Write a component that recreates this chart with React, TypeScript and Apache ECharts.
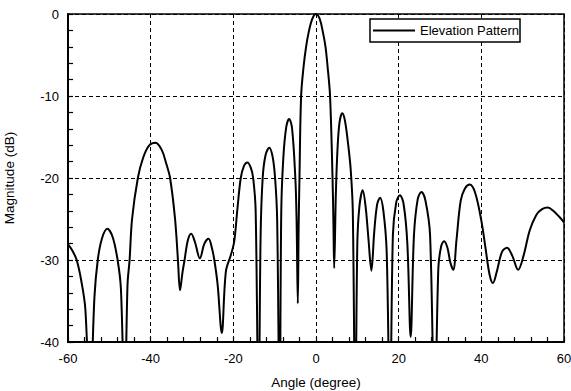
import { useEffect, useRef } from "react";
import * as echarts from "echarts";

// Elevation pattern: angle (degree) vs magnitude (dB), nulls go below the -40 dB floor
const angles = [
  -60, -59.0, -57.9, -56.8, -55.8, -54.7, -53.6, -52.8, -51.8, -50.5, -49.2, -48.0, -47.2, -46.3,
  -45.6, -45.1, -44.5, -43.1, -41.8, -40.3, -38.8, -37.3, -36.2, -35.3, -34.1, -33.4, -32.9,
  -32.3, -31.8, -31.0, -30.2, -29.3, -28.1, -27.0, -26.0, -25.2, -24.6, -23.8, -22.8, -21.8,
  -20.6, -19.8, -19.0, -18.2, -17.4, -16.6, -15.8, -15.2, -14.6, -13.9, -13.4, -12.9, -12.2,
  -11.3, -10.5, -9.9, -9.4, -8.8, -8.4, -7.9, -7.2, -6.5, -5.8, -5.0, -4.7, -4.4, -4.2, -4.0,
  -3.6, -3.0, -2.4, -1.8, -0.9, 0, 0.9, 1.7, 2.3, 2.8, 3.4, 4.0, 4.2, 4.4, 4.8, 5.2, 5.7, 6.35,
  7.0, 7.8, 8.4, 8.9, 9.5, 10.0, 10.5, 11.3, 12.0, 12.7, 13.4, 14.1, 14.8, 15.5, 16.3, 17.1,
  17.9, 18.6, 19.4, 20.3, 21.2, 22.1, 22.9, 23.7, 24.6, 25.5, 26.5, 27.6, 28.7, 29.6, 30.3,
  31.0, 31.8, 32.5, 33.2, 34.0, 35.0, 36.0, 37.2, 38.5, 40.0, 41.0, 42.0, 42.8, 43.7, 45.0,
  46.2, 47.5, 48.9, 50.2, 51.7, 53.3, 54.7, 56.1, 57.4, 58.8, 60,
];

const magnitudes = [
  -28.1, -28.8, -30.0, -32.5, -36.0, -48.0, -34.5, -30.0, -27.4, -26.2, -27.2, -30.0, -33.5, -48.0,
  -33.0, -30.0, -25.0, -20.0, -17.5, -16.0, -15.7, -16.6, -18.3, -20.0, -25.0, -30.0, -33.7,
  -31.5, -30.0, -27.6, -26.8, -27.8, -29.8, -28.0, -27.4, -28.5, -30.0, -33.0, -38.9, -31.4,
  -29.4, -27.8, -23.7, -20.0, -18.5, -18.1, -18.7, -20.0, -24.0, -50.0, -27.0, -20.0, -17.2,
  -16.3, -17.4, -20.0, -25.0, -50.0, -24.0, -17.5, -13.8, -12.8, -13.9, -20.0, -25.0, -35.3,
  -26.0, -20.0, -10.0, -6.4, -4.0, -2.3, -0.6, 0, -0.6, -2.3, -4.0, -6.4, -10.0, -20.0, -25.0,
  -31.0, -22.0, -16.5, -13.2, -12.1, -13.0, -16.0, -19.0, -24.0, -50.0, -28.0, -23.5, -21.5,
  -23.5, -27.5, -31.3, -26.5, -23.2, -22.4, -24.0, -29.0, -50.0, -27.0, -23.0, -22.1, -23.2,
  -28.0, -39.4, -27.0, -22.6, -21.7, -22.8, -27.0, -50.0, -31.0, -28.3, -27.7, -28.5, -30.3,
  -31.2, -27.5, -22.8, -21.3, -20.8, -21.8, -25.2, -28.5, -31.8, -32.8, -31.5, -29.0, -28.5,
  -29.5, -31.2, -29.5, -26.4, -24.5, -23.8, -23.6, -24.0, -24.7, -25.4,
];

const seriesName = "Elevation Pattern";
const xTitle = "Angle (degree)";
const yTitle = "Magnitude (dB)";

const FONT = "Liberation Sans, Arial, Helvetica, sans-serif";

export default function App() {
  const ref = useRef<HTMLDivElement>(null);

  useEffect(() => {
    const chart = echarts.init(ref.current!, null, { renderer: "svg" });
    const points = angles.map((a, i) => [a, magnitudes[i]]);
    chart.setOption({
      animation: false,
      backgroundColor: "#fff",
      grid: {
        left: 68,
        right: 7,
        top: 14,
        bottom: 49,
        containLabel: false,
        outerBoundsMode: "none",
        show: true,
        borderColor: "#000",
        borderWidth: 1.5,
        backgroundColor: "transparent",
      },
      legend: {
        show: true,
        left: 370,
        top: 19,
        orient: "horizontal",
        padding: [5, 1, 5, 3],
        itemWidth: 42,
        itemHeight: 14,
        borderColor: "#000",
        borderWidth: 1.5,
        backgroundColor: "#fff",
        textStyle: { fontFamily: FONT, fontSize: 13, color: "#000" },
        data: [{ name: seriesName, icon: "path://M0,0 L42,0 L42,2 L0,2 Z" }],
        itemStyle: { color: "#000" },
      },
      xAxis: {
        type: "value",
        min: -60,
        max: 60,
        interval: 20,
        name: xTitle,
        nameLocation: "middle",
        nameGap: 33,
        nameTextStyle: { fontFamily: FONT, fontSize: 13.5, color: "#000" },
        axisLine: { show: true, onZero: false, lineStyle: { color: "#000", width: 2 } },
        axisTick: { show: true, inside: true, length: 5, lineStyle: { color: "#000", width: 1.2 } },
        minorTick: { show: true, splitNumber: 5, length: 5, lineStyle: { color: "#000", width: 1.2 } },
        axisLabel: { fontFamily: FONT, fontSize: 13, color: "#000", margin: 10 },
        splitLine: { show: true, lineStyle: { color: "#000", width: 1, type: [4, 3] } },
      },
      yAxis: {
        type: "value",
        min: -40,
        max: 0,
        interval: 10,
        name: yTitle,
        nameLocation: "middle",
        nameGap: 52,
        nameRotate: 90,
        nameTextStyle: { fontFamily: FONT, fontSize: 13.5, color: "#000" },
        axisLine: { show: true, onZero: false, lineStyle: { color: "#000", width: 2 } },
        axisTick: { show: true, inside: true, length: 5, lineStyle: { color: "#000", width: 1.2 } },
        minorTick: { show: true, splitNumber: 5, length: 5, lineStyle: { color: "#000", width: 1.2 } },
        axisLabel: { fontFamily: FONT, fontSize: 13, color: "#000", margin: 9 },
        splitLine: { show: true, lineStyle: { color: "#000", width: 1, type: [4, 3] } },
      },
      series: [
        {
          name: seriesName,
          type: "line",
          data: points,
          smooth: 0.35,
          showSymbol: false,
          symbol: "none",
          clip: true,
          lineStyle: { color: "#000", width: 2 },
          itemStyle: { color: "#000" },
        },
      ],
    });
    return () => chart.dispose();
  }, []);

  return (
    <div
      ref={ref}
      style={{ position: "absolute", left: 0, top: 0, width: 571, height: 391, background: "#fff" }}
    />
  );
}
